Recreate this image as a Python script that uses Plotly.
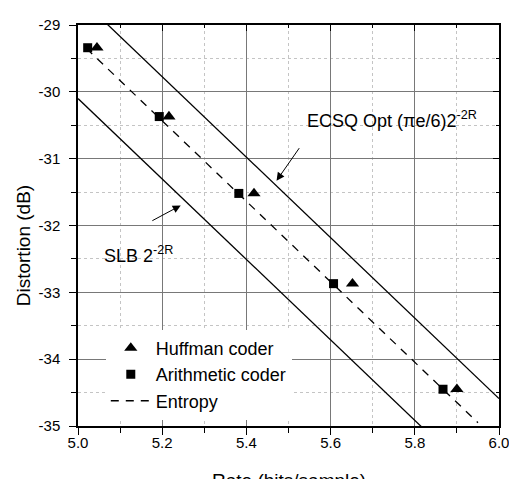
import plotly.graph_objects as go

# Data
huffman_rate = [5.045, 5.216, 5.418, 5.652, 5.900]
huffman_dist = [-29.34, -30.37, -31.52, -32.87, -34.45]
arith_rate = [5.023, 5.193, 5.382, 5.607, 5.867]
arith_dist = [-29.34, -30.37, -31.52, -32.87, -34.45]
entropy_rate = [5.02, 5.95]
entropy_dist = [-29.35, -34.95]
ecsq_rate = [5.0, 6.0]
ecsq_dist = [-28.57, -34.59]
slb_rate = [5.0, 6.0]
slb_dist = [-30.10, -36.12]

x_tickvals = [5.0, 5.2, 5.4, 5.6, 5.8, 6.0]
x_ticktext = ["5.0", "5.2", "5.4", "5.6", "5.8", "6.0"]
y_tickvals = [-35, -34, -33, -32, -31, -30, -29]
y_ticktext = ["-35", "-34", "-33", "-32", "-31", "-30", "-29"]

FONT = "Liberation Sans, Arial, sans-serif"

fig = go.Figure()
fig.add_trace(go.Scatter(x=slb_rate, y=slb_dist, mode="lines",
                         line=dict(color="black", width=1.3), showlegend=False))
fig.add_trace(go.Scatter(x=ecsq_rate, y=ecsq_dist, mode="lines",
                         line=dict(color="black", width=1.3), showlegend=False))
fig.add_trace(go.Scatter(x=huffman_rate, y=huffman_dist, mode="markers", name="Huffman coder",
                         marker=dict(symbol="triangle-up", size=11.5, color="black")))
fig.add_trace(go.Scatter(x=arith_rate, y=arith_dist, mode="markers", name="Arithmetic coder",
                         marker=dict(symbol="square", size=9, color="black")))
fig.add_trace(go.Scatter(x=entropy_rate, y=entropy_dist, mode="lines", name="Entropy",
                         line=dict(color="black", width=1.3, dash="8px,7px")))
# invisible trace to host the mirrored (inside-tick) axes
fig.add_trace(go.Scatter(x=[5.0], y=[-35], xaxis="x2", yaxis="y2", mode="markers",
                         marker=dict(opacity=0), showlegend=False, hoverinfo="skip"))

common_grid = dict(showgrid=True, gridcolor="#787878", gridwidth=1,
                   showline=True, linecolor="black", linewidth=1.5,
                   zeroline=False, tickfont=dict(family=FONT, size=15, color="black"),
                   ticks="outside", ticklen=7, tickwidth=1.2, tickcolor="black",
                   ticklabeloverflow="allow")

fig.update_layout(
    width=509, height=471,
    margin=dict(l=70, r=17, t=8, b=53),
    paper_bgcolor="white", plot_bgcolor="white",
    font=dict(family=FONT, color="black"),
    xaxis=dict(range=[5.0, 6.0], tickmode="array", tickvals=x_tickvals, ticktext=x_ticktext,
               ticklabelstandoff=-5,
               minor=dict(dtick=0.1, tick0=5.0, showgrid=True, gridcolor="#c4c4c4", griddash="dot",
                          ticks="outside", ticklen=5, tickcolor="black", tickwidth=1.2),
               **common_grid),
    yaxis=dict(range=[-35, -29], tickmode="array", tickvals=y_tickvals, ticktext=y_ticktext,
               ticklabelstandoff=6,
               minor=dict(dtick=0.5, tick0=-35, showgrid=True, gridcolor="#c4c4c4", griddash="dot",
                          ticks="outside", ticklen=5, tickcolor="black", tickwidth=1.2),
               **common_grid),
    xaxis2=dict(range=[5.0, 6.0], overlaying="x", side="top", dtick=0.2, tick0=5.0,
                showticklabels=False, showgrid=False, zeroline=False,
                showline=True, linecolor="black", linewidth=1.5,
                ticks="inside", ticklen=6, tickcolor="black", tickwidth=1.2,
                minor=dict(dtick=0.1, ticks="inside", ticklen=3, tickcolor="black", showgrid=False)),
    yaxis2=dict(range=[-35, -29], overlaying="y", side="right", dtick=1,
                showticklabels=False, showgrid=False, zeroline=False,
                showline=True, linecolor="black", linewidth=1.5,
                ticks="inside", ticklen=6, tickcolor="black", tickwidth=1.2,
                minor=dict(dtick=0.5, ticks="inside", ticklen=3, tickcolor="black", showgrid=False)),
    legend=dict(x=0.066, y=0.240, xanchor="left", yanchor="top",
                bgcolor="white", borderwidth=0,
                font=dict(family=FONT, size=18, color="black"),
                itemwidth=40, tracegroupgap=0),
    showlegend=True,
)

annotations = [
    # axis titles
    dict(text="Distortion (dB)", xref="paper", yref="paper", x=-0.129, y=0.45,
         xanchor="center", yanchor="middle", textangle=-90, showarrow=False,
         font=dict(family=FONT, size=19, color="black")),
    dict(text="Rate (bits/sample)", xref="paper", yref="paper", x=0.5, y=-0.105,
         xanchor="center", yanchor="top", showarrow=False,
         font=dict(family=FONT, size=19, color="black")),
    # curve labels
    dict(text="ECSQ Opt (\u03c0e/6)2<sup>-2R</sup>", x=5.538, y=-30.41, xref="x", yref="y",
         xanchor="left", yanchor="middle", showarrow=False,
         font=dict(family=FONT, size=18, color="black")),
    dict(text="SLB 2<sup>-2R</sup>", x=5.057, y=-32.43, xref="x", yref="y",
         xanchor="left", yanchor="middle", showarrow=False,
         font=dict(family=FONT, size=18, color="black")),
    # arrows
    dict(text="", x=5.4716, y=-31.33, ax=5.528, ay=-30.82, xref="x", yref="y",
         axref="x", ayref="y", showarrow=True, arrowhead=2, arrowsize=1.6,
         arrowwidth=1, arrowcolor="black"),
    dict(text="", x=5.244, y=-31.70, ax=5.173, ay=-31.94, xref="x", yref="y",
         axref="x", ayref="y", showarrow=True, arrowhead=2, arrowsize=1.6,
         arrowwidth=1, arrowcolor="black"),
]
fig.update_layout(annotations=annotations)

fig.write_html("out.html")
